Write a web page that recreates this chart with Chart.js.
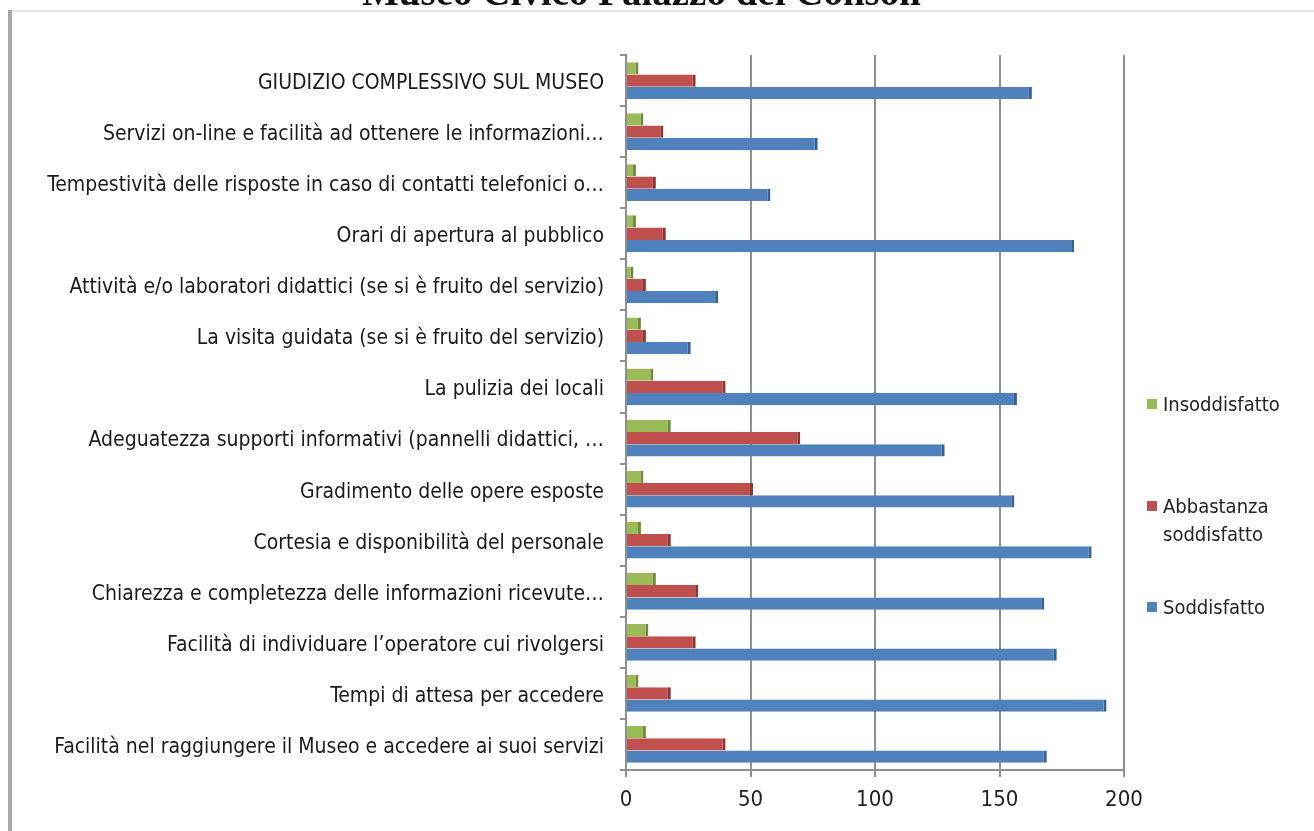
<!DOCTYPE html>
<html>
<head>
<meta charset="utf-8">
<script src="https://cdn.jsdelivr.net/npm/chart.js@4.4.1/dist/chart.umd.min.js"></script>
<style>
  html, body { margin: 0; padding: 0; background: #fff; overflow: hidden; }
  #wrap { position: relative; width: 1314px; height: 831px; }
  #c { position: absolute; left: 0; top: 0; }
  #title { position: absolute; left: 362px; top: -28px; font: bold 39px "Liberation Serif", serif; line-height: 39px; white-space: nowrap; color: #111; z-index: 2; }
  #topline { position: absolute; left: 8px; top: 10px; width: 1306px; height: 2px; background: #e4e4e4; z-index: 3; }
  #leftline { position: absolute; left: 8px; top: 10px; width: 4px; height: 821px; background: #a8a8a8; z-index: 3; }
  #cover { position: absolute; left: 0; top: 12px; width: 1314px; height: 20px; background: #fff; z-index: 2; }
  #legend { position: absolute; left: 1147px; top: 0; z-index: 2; font: 20px "DejaVu Sans Condensed", sans-serif; color: #222; }
  .item { position: absolute; left: 0; white-space: nowrap; line-height: 28px; }
  .sw { position: absolute; left: 0; top: 9px; width: 10px; height: 10px; }
  .txt { position: absolute; left: 16px; top: 0; }
</style>
</head>
<body>
<div id="wrap">
  <div id="title">Museo Civico Palazzo dei Consoli</div>
  <div id="cover"></div>
  <div id="topline"></div>
  <div id="leftline"></div>
  <canvas id="c" width="1314" height="831"></canvas>
  <div id="legend"></div>
</div>
<script>
const categories = [
  "GIUDIZIO COMPLESSIVO SUL MUSEO",
  "Servizi on-line e facilità ad ottenere le informazioni…",
  "Tempestività delle risposte in caso di contatti telefonici o…",
  "Orari di apertura al pubblico",
  "Attività e/o laboratori didattici (se si è fruito del servizio)",
  "La visita guidata (se si è fruito del servizio)",
  "La pulizia dei locali",
  "Adeguatezza supporti informativi (pannelli didattici, …",
  "Gradimento delle opere esposte",
  "Cortesia e disponibilità del personale",
  "Chiarezza e completezza delle informazioni ricevute…",
  "Facilità di individuare l’operatore cui rivolgersi",
  "Tempi di attesa per accedere",
  "Facilità nel raggiungere il Museo e accedere ai suoi servizi"
];
const seriesNames = ["Insoddisfatto", ["Abbastanza", "soddisfatto"], "Soddisfatto"];
const insoddisfatto = [5, 7, 4, 4, 3, 6, 11, 18, 7, 6, 12, 9, 5, 8];
const abbastanza    = [28, 15, 12, 16, 8, 8, 40, 70, 51, 18, 29, 28, 18, 40];
const soddisfatto   = [163, 77, 58, 180, 37, 26, 157, 128, 156, 187, 168, 173, 193, 169];
const xTicks = [0, 50, 100, 150, 200];

const colors = ["#9BBB59", "#C0504D", "#4F81BD"];
const borders = ["#6f8a3a", "#8c3532", "#35608f"];
const values = [insoddisfatto, abbastanza, soddisfatto];

const labelFont = { family: '"DejaVu Sans Condensed", sans-serif', size: 21 };

new Chart(document.getElementById('c'), {
  type: 'bar',
  data: {
    labels: categories,
    datasets: values.map((v, i) => ({
      label: Array.isArray(seriesNames[i]) ? seriesNames[i].join(' ') : seriesNames[i],
      data: v,
      backgroundColor: colors[i],
      borderColor: borders[i],
      borderWidth: { top: 0, bottom: 0, left: 0, right: 3 },
      categoryPercentage: 0.72,
      barPercentage: 1.0
    }))
  },
  options: {
    indexAxis: 'y',
    responsive: false,
    animation: false,
    layout: { padding: { top: 55, right: 190, left: 0, bottom: 0 } },
    plugins: { legend: { display: false }, title: { display: false }, tooltip: { enabled: false } },
    scales: {
      x: {
        min: 0, max: 200,
        afterBuildTicks: s => { s.ticks = xTicks.map(v => ({ value: v })); },
        afterFit: s => { s.height = 61; },
        grid: { color: '#8f8f8f', lineWidth: 2, tickLength: 7, drawTicks: true },
        border: { display: true, color: '#8f8f8f', width: 2 },
        ticks: { font: { family: labelFont.family, size: 22 }, color: '#222', padding: 10 }
      },
      y: {
        afterFit: s => { s.width = 626; },
        grid: { display: true, drawOnChartArea: false, offset: true, color: '#8f8f8f', lineWidth: 2, tickLength: 6 },
        border: { display: true, color: '#8f8f8f', width: 2 },
        ticks: { font: labelFont, color: '#1a1a1a', padding: 16, autoSkip: false, labelOffset: 3 }
      }
    }
  }
});

// legend
const legendTops = [390, 492, 593];
const lg = document.getElementById('legend');
[0, 1, 2].forEach(i => {
  const it = document.createElement('div');
  it.className = 'item';
  it.style.top = legendTops[i] + 'px';
  const sw = document.createElement('div');
  sw.className = 'sw';
  sw.style.background = colors[i];
  const tx = document.createElement('div');
  tx.className = 'txt';
  const name = seriesNames[i];
  tx.innerHTML = Array.isArray(name) ? name.join('<br>') : name;
  it.appendChild(sw); it.appendChild(tx);
  lg.appendChild(it);
});
</script>
</body>
</html>
